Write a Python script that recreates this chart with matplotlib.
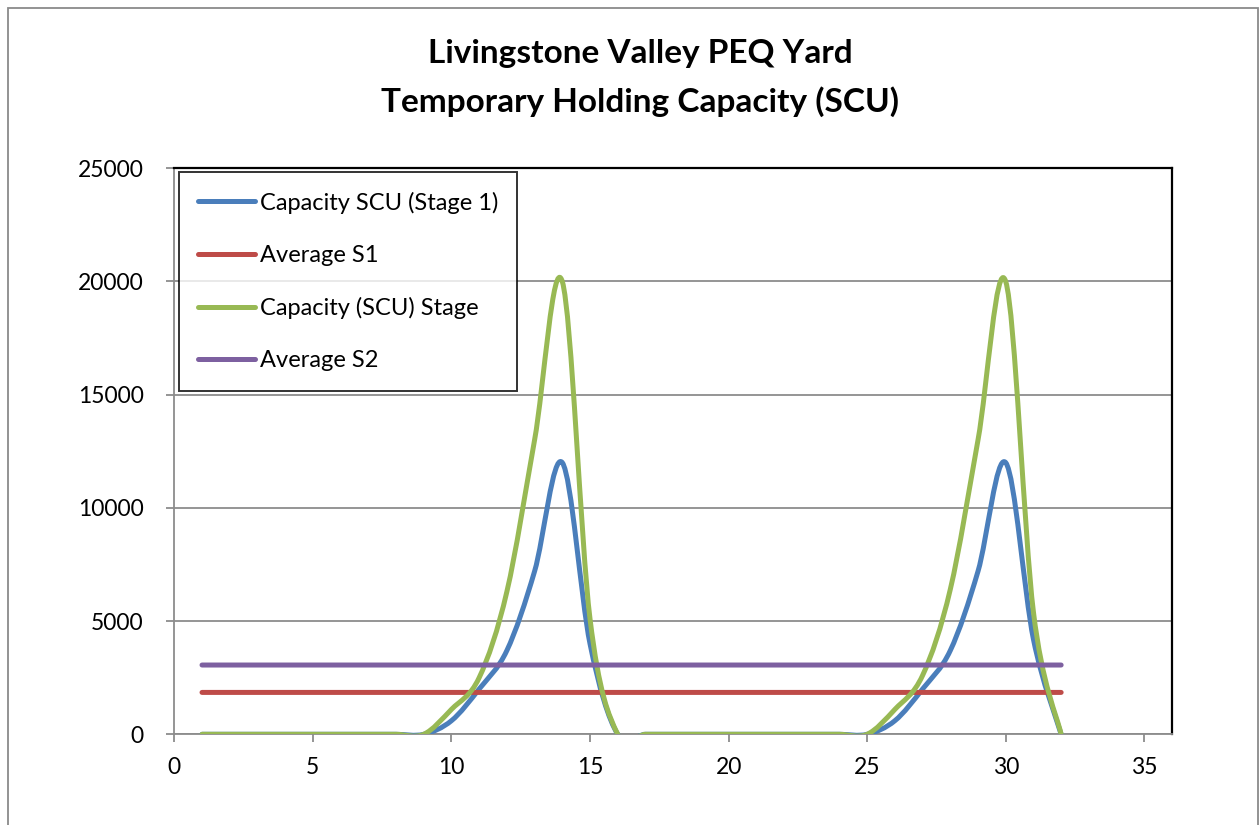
import matplotlib
matplotlib.use("Agg")
import matplotlib.pyplot as plt
from matplotlib.path import Path
from matplotlib.patches import PathPatch, Rectangle
from matplotlib.lines import Line2D

# ---------------- data ----------------
days = list(range(1, 33))
capacity_stage1 = [0, 0, 0, 0, 0, 0, 0, 0, 0,
                   600, 2000, 3700, 7200, 12000, 4000, 0,
                   0, 0, 0, 0, 0, 0, 0, 0, 0,
                   600, 2000, 3700, 7200, 12000, 4200, 0]
capacity_stage2 = [0, 0, 0, 0, 0, 0, 0, 0, 0,
                   1100, 2500, 6300, 13000, 20000, 5100, 0,
                   0, 0, 0, 0, 0, 0, 0, 0, 0,
                   1100, 2600, 6400, 13000, 20000, 5400, 0]
average_s1 = [1850] * 32
average_s2 = [3060] * 32

series_names = ["Capacity SCU (Stage 1)", "Average S1",
                "Capacity (SCU) Stage", "Average S2"]
title_lines = ["Livingstone Valley PEQ Yard", "Temporary Holding Capacity (SCU)"]
x_ticks = [0, 5, 10, 15, 20, 25, 30, 35]
y_ticks = [0, 5000, 10000, 15000, 20000, 25000]

# ---------------- style ----------------
colors = ["#4a7ebb", "#be4b48", "#98b954", "#7d60a0"]
FONT = ["Lato", "DejaVu Sans"]
plt.rcParams["font.family"] = FONT
LW = 3.6
GRID = "#8c8c8c"


def smooth_path(xs, ys):
    """Excel-like smoothed line: cubic Bezier through each point (Catmull-Rom)."""
    n = len(xs)
    verts = [(xs[0], ys[0])]
    codes = [Path.MOVETO]
    for i in range(n - 1):
        i0 = max(i - 1, 0)
        i3 = min(i + 2, n - 1)
        c1 = (xs[i] + (xs[i + 1] - xs[i0]) / 6.0, ys[i] + (ys[i + 1] - ys[i0]) / 6.0)
        c2 = (xs[i + 1] - (xs[i3] - xs[i]) / 6.0, ys[i + 1] - (ys[i3] - ys[i]) / 6.0)
        verts += [c1, c2, (xs[i + 1], ys[i + 1])]
        codes += [Path.CURVE4] * 3
    return Path(verts, codes)


fig = plt.figure(figsize=(12.6, 8.25), dpi=100)
ax = fig.add_axes([174.3 / 1260, 1 - 734.3 / 825, (1172 - 174.3) / 1260, (734.3 - 168.3) / 825])

# outer chart border
fig.patches.append(Rectangle((8 / 1260, -0.05), 1250 / 1260, 1.05 - 8 / 825,
                             transform=fig.transFigure, fill=False,
                             edgecolor="#8a8a8a", linewidth=1.3))

all_series = [capacity_stage1, average_s1, capacity_stage2, average_s2]
for vals, col in zip(all_series, colors):
    p = PathPatch(smooth_path(days, vals), facecolor="none", edgecolor=col,
                  linewidth=LW, capstyle="round", joinstyle="round", zorder=3)
    ax.add_patch(p)

ax.set_xlim(0, 36)
ax.set_ylim(0, 25000)
ax.set_xticks(x_ticks)
ax.set_yticks(y_ticks)
ax.yaxis.grid(True, color=GRID, linewidth=1.3)
ax.set_axisbelow(True)
ax.tick_params(axis="both", labelsize=16.5, color=GRID, length=6, width=1.3,
               direction="out", labelcolor="black")
ax.tick_params(axis="x", pad=10)
ax.tick_params(axis="y", pad=16)
for s in ["left", "bottom"]:
    ax.spines[s].set_color(GRID)
    ax.spines[s].set_linewidth(1.3)
for s in ["top", "right"]:
    ax.spines[s].set_color("black")
    ax.spines[s].set_linewidth(1.6)

handles = [Line2D([0], [0], color=c, linewidth=LW, solid_capstyle="round") for c in colors]
leg = ax.legend(handles, series_names, loc="upper left", bbox_to_anchor=(0.0045, 0.993),
                frameon=True, fancybox=False, edgecolor="black", fontsize=17,
                handlelength=2.4, handletextpad=0.2, labelspacing=1.32,
                borderpad=0.82, borderaxespad=0.0)
leg.get_frame().set_linewidth(1.4)

fig.text(0.508, 1 - 54 / 825, title_lines[0], ha="center", va="center",
         fontsize=24, fontweight="bold")
fig.text(0.508, 1 - 102 / 825, title_lines[1], ha="center", va="center",
         fontsize=24, fontweight="bold")

fig.savefig("out.png", dpi=100)
